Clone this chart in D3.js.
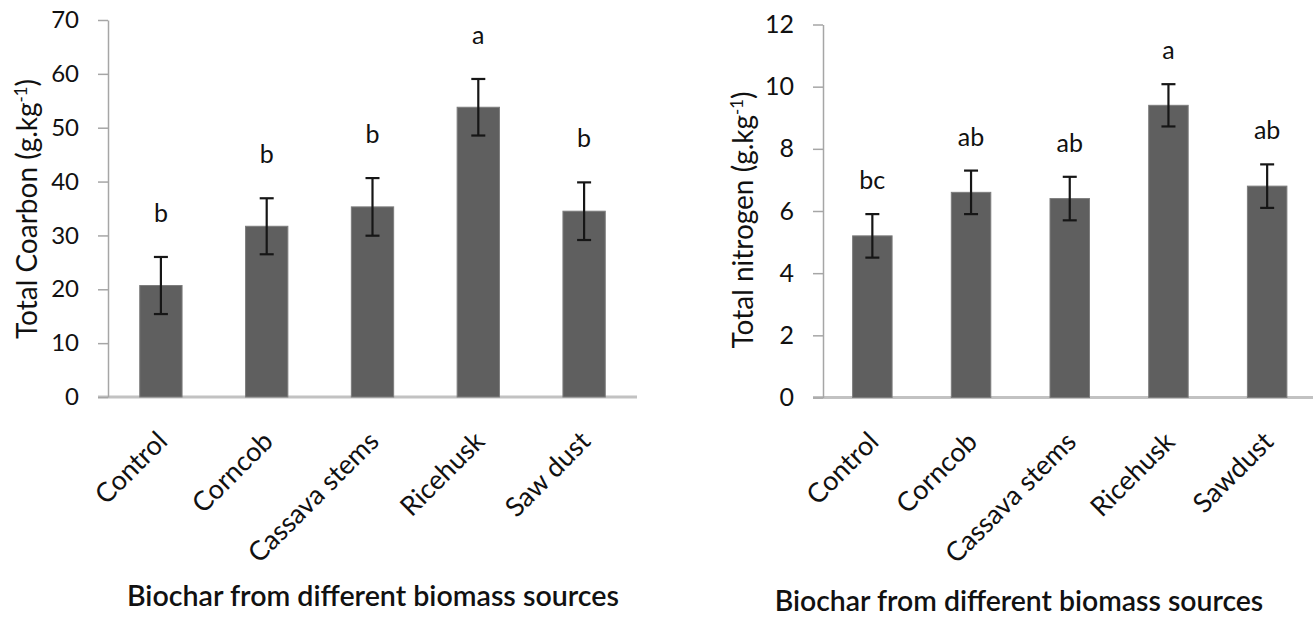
<!DOCTYPE html>
<html>
<head>
<meta charset="utf-8">
<script src="https://cdn.jsdelivr.net/npm/d3@7/dist/d3.min.js"></script>
<style>
  body { margin: 0; background: #fff; }
  svg { display: block; font-family: Lato, "Open Sans", sans-serif; }
</style>
</head>
<body>
<div id="chart"></div>
<script>
// carbon panel
var carbonCategories = ["Control", "Corncob", "Cassava stems", "Ricehusk", "Saw dust"];
var carbonValues = [20.7, 31.7, 35.3, 53.8, 34.5];
var carbonErrors = [5.3, 5.2, 5.35, 5.25, 5.35];
var carbonLetters = ["b", "b", "b", "a", "b"];
var carbonTicks = [0, 10, 20, 30, 40, 50, 60, 70];

// nitrogen panel
var nitrogenCategories = ["Control", "Corncob", "Cassava stems", "Ricehusk", "Sawdust"];
var nitrogenValues = [5.2, 6.6, 6.4, 9.4, 6.8];
var nitrogenErrors = [0.7, 0.7, 0.7, 0.68, 0.7];
var nitrogenLetters = ["bc", "ab", "ab", "a", "ab"];
var nitrogenTicks = [0, 2, 4, 6, 8, 10, 12];

var svg = d3.select("#chart")
            .append("svg")
            .attr("width", 1313)
            .attr("height", 617);

function draw_panel(p) {
  var rows = p.categories.map(function(c, i) {
    return {cat: c, value: p.values[i], err: p.errors[i], letter: p.letters[i]};
  });

  var x = d3.scaleBand().domain(p.categories).range(p.xRange).paddingInner(0.6).paddingOuter(0.3);
  var y = d3.scaleLinear().domain([0, d3.max(p.ticks)]).range(p.yRange);

  var g = svg.append("g");

  // baseline runs a little left of the value axis, like the excel original
  g.append("line")
   .attr("x1", p.xRange[0] - 10)
   .attr("x2", Math.min(p.xRange[1], 1313))
   .attr("y1", y(0)).attr("y2", y(0))
   .attr("stroke", "#c2c2c2")
   .attr("stroke-width", 3);

  var yAxis = g.append("g")
     .attr("transform", "translate(" + p.xRange[0] + ",0)")
     .call(d3.axisLeft(y).tickValues(p.ticks).tickSizeInner(10).tickSizeOuter(0).tickPadding(19));
  yAxis.select(".domain").attr("stroke", "#a6a6a6").attr("stroke-width", 1.5);
  yAxis.selectAll(".tick line").attr("stroke", "#a6a6a6").attr("stroke-width", 1.5);
  yAxis.selectAll(".tick text")
       .attr("font-size", p.tickFont)
       .attr("font-family", "Lato")
       .attr("fill", "#111");

  var xAxis = g.append("g")
     .attr("transform", "translate(0," + y(0) + ")")
     .call(d3.axisBottom(x).tickSize(0));
  xAxis.select(".domain").remove();
  xAxis.selectAll(".tick text")
       .attr("x", 0).attr("y", 0).attr("dy", 0)
       .attr("text-anchor", "end")
       .attr("transform", "translate(8,46) rotate(-45)")
       .attr("font-size", p.catFont)
       .attr("font-family", "Lato")
       .attr("fill", "#111");

  g.selectAll(".bar")
   .data(rows)
   .enter().append("rect")
   .attr("class", "bar")
   .attr("x", function(d){ return x(d.cat); })
   .attr("width", x.bandwidth())
   .attr("y", function(d){ return y(d.value); })
   .attr("height", function(d){ return y(0) - y(d.value); })
   .attr("fill", "#5f5f5f")
   .attr("stroke", "#7d7d7d")
   .attr("stroke-width", 1);

  var cx = function(d){ return x(d.cat) + x.bandwidth() / 2; };
  var cap = 7;

  var eb = g.selectAll(".err").data(rows).enter().append("g").attr("class", "err")
            .attr("stroke", "#161616").attr("stroke-width", 2.2);
  eb.append("line")
    .attr("x1", cx).attr("x2", cx)
    .attr("y1", function(d){ return y(d.value + d.err); })
    .attr("y2", function(d){ return y(d.value - d.err); });
  eb.append("line")
    .attr("x1", function(d){ return cx(d) - cap; }).attr("x2", function(d){ return cx(d) + cap; })
    .attr("y1", function(d){ return y(d.value + d.err); })
    .attr("y2", function(d){ return y(d.value + d.err); });
  eb.append("line")
    .attr("x1", function(d){ return cx(d) - cap; }).attr("x2", function(d){ return cx(d) + cap; })
    .attr("y1", function(d){ return y(d.value - d.err); })
    .attr("y2", function(d){ return y(d.value - d.err); });

  g.selectAll(".letter")
   .data(rows)
   .enter().append("text")
   .attr("class", "letter")
   .attr("x", cx)
   .attr("y", function(d){ return y(d.value + d.err) - p.letterGap; })
   .attr("text-anchor", "middle")
   .attr("font-size", p.letterFont)
   .attr("fill", "#111")
   .text(function(d){ return d.letter; });

  // y title with superscript -1
  var yt = g.append("text")
     .attr("transform", "translate(" + p.yTitlePos[0] + "," + p.yTitlePos[1] + ") rotate(-90)")
     .attr("text-anchor", "middle")
     .attr("font-size", p.titleFont)
     .attr("fill", "#111");
  yt.append("tspan").text(p.yTitle + " (g.kg");
  yt.append("tspan").attr("font-size", "0.6em").attr("dy", "-0.6em").text("-1");
  yt.append("tspan").attr("dy", "0.36em").text(")");

  g.append("text")
   .attr("x", p.xTitlePos[0])
   .attr("y", p.xTitlePos[1])
   .attr("text-anchor", "middle")
   .attr("font-size", p.xTitleFont)
   .attr("font-weight", 600)
   .attr("fill", "#111")
   .text("Biochar from different biomass sources");
}

draw_panel({
  categories: carbonCategories, values: carbonValues, errors: carbonErrors,
  letters: carbonLetters, ticks: carbonTicks,
  xRange: [108, 637], yRange: [397, 20],
  tickFont: 24, catFont: 27, letterFont: 25, letterGap: 35, titleFont: 28, xTitleFont: 28.6,
  yTitle: "Total Coarbon", yTitlePos: [37, 209], xTitlePos: [373, 606]
});

draw_panel({
  categories: nitrogenCategories, values: nitrogenValues, errors: nitrogenErrors,
  letters: nitrogenLetters, ticks: nitrogenTicks,
  xRange: [823, 1316.5], yRange: [397.5, 24.5],
  tickFont: 25, catFont: 27, letterFont: 25, letterGap: 25, titleFont: 28, xTitleFont: 28.4,
  yTitle: "Total nitrogen", yTitlePos: [753, 220], xTitlePos: [1019, 611]
});
</script>
</body>
</html>
